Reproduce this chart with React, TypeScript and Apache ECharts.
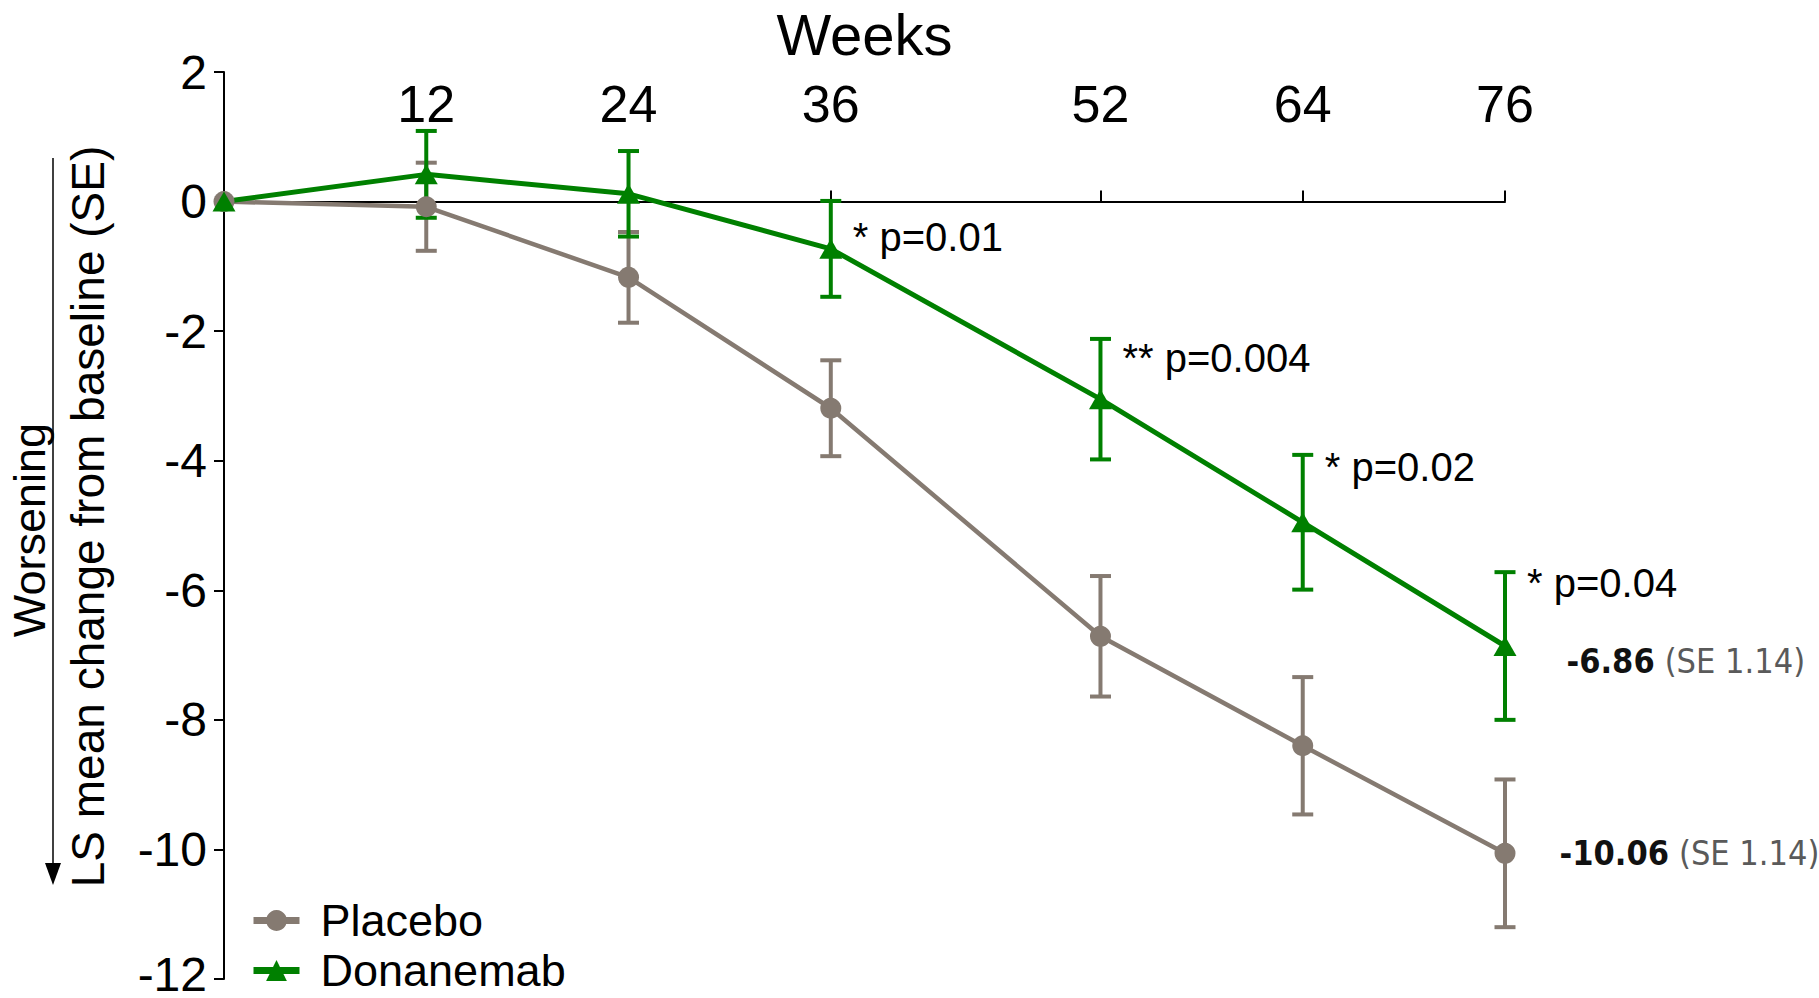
import React, { useEffect, useRef } from 'react';
import * as echarts from 'echarts';

const weeks = [0, 12, 24, 36, 52, 64, 76];
const weekTicks = [12, 24, 36, 52, 64, 76];
const placeboMean = [0, -0.08, -1.17, -3.19, -6.71, -8.4, -10.06];
const placeboSE = [0, 0.68, 0.7, 0.74, 0.93, 1.06, 1.14];
const donaMean = [0, 0.42, 0.12, -0.73, -3.05, -4.95, -6.86];
const donaSE = [0, 0.67, 0.66, 0.74, 0.93, 1.04, 1.14];
const pLabels = ['', '', '', '* p=0.01', '** p=0.004', '* p=0.02', '* p=0.04'];
const pLabelY = [0, 0, 0, -0.54, -2.42, -4.09, -5.88];
const yMin = -12;
const yMax = 2;
const yStep = 2;

const GRAY = '#857a71';
const GREEN = '#008000';
const FONT = "'Liberation Sans', Arial, Helvetica, sans-serif";
const DIN = "'DejaVu Sans Condensed', 'DejaVu Sans', sans-serif";

function errorBarSeries(name: string, mean: number[], se: number[], color: string, width: number) {
  return {
    type: 'custom',
    name,
    data: weeks.map((w, i) => [w, mean[i], se[i]]),
    encode: { x: 0, y: 1 },
    silent: true,
    renderItem: (params: any, api: any) => {
      const x = api.value(0);
      const m = api.value(1);
      const s = api.value(2);
      if (!s) return { type: 'group', children: [] };
      const top = api.coord([x, m + s]);
      const bot = api.coord([x, m - s]);
      const hw = 10.5;
      const st = { stroke: color, lineWidth: width };
      return {
        type: 'group',
        children: [
          { type: 'line', shape: { x1: top[0], y1: top[1], x2: bot[0], y2: bot[1] }, style: st },
          { type: 'line', shape: { x1: top[0] - hw, y1: top[1], x2: top[0] + hw, y2: top[1] }, style: st },
          { type: 'line', shape: { x1: bot[0] - hw, y1: bot[1], x2: bot[0] + hw, y2: bot[1] }, style: st },
        ],
      };
    },
  };
}

function lineData(mean: number[], se: number[], offsetY: number, dist: number) {
  return weeks.map((w, i) => {
    if (i !== weeks.length - 1) return [w, mean[i]];
    return {
      value: [w, mean[i]],
      label: {
        show: true,
        position: 'right',
        distance: dist,
        offset: [0, offsetY],
        formatter: `{b|${mean[i].toFixed(2)}}{g|(SE ${se[i].toFixed(2)})}`,
        rich: {
          b: { fontFamily: DIN, fontWeight: 'bold', fontSize: 34, color: '#111' },
          g: { fontFamily: DIN, fontSize: 34, color: '#5a5a5a', padding: [0, 0, 0, 10] },
        },
      },
    };
  });
}

export default function App() {
  const ref = useRef<HTMLDivElement>(null);
  useEffect(() => {
    document.body.style.margin = '0';
    if (!ref.current) return;
    const chart = echarts.init(ref.current, undefined, { renderer: 'svg' });
    chart.setOption({
      animation: false,
      backgroundColor: '#fff',
      grid: { left: 224, right: 314, top: 72, bottom: 19, containLabel: false, outerBoundsMode: 'none' },
      legend: {
        orient: 'vertical',
        left: 245,
        top: 893,
        itemWidth: 46,
        itemHeight: 26,
        itemGap: 5,
        data: ['Placebo', 'Donanemab'],
        textStyle: { fontSize: 45, fontFamily: FONT, color: '#000', padding: [0, 0, 0, 16] },
        lineStyle: { width: 7 },
      },
      xAxis: {
        type: 'value',
        min: 0,
        max: 76,
        position: 'top',
        name: 'Weeks',
        nameLocation: 'middle',
        nameGap: 13,
        nameTextStyle: { fontSize: 58, lineHeight: 50, fontFamily: FONT, color: '#000' },
        axisLine: { show: true, onZero: true, lineStyle: { color: '#000', width: 2 } },
        axisTick: { show: true, length: 11, customValues: weekTicks, lineStyle: { color: '#000', width: 2 } },
        axisLabel: { customValues: weekTicks, fontSize: 52, fontFamily: FONT, color: '#000', margin: -58 },
        splitLine: { show: false },
      },
      yAxis: {
        type: 'value',
        min: yMin,
        max: yMax,
        interval: yStep,
        position: 'left',
        name: 'LS mean change from baseline (SE)',
        nameLocation: 'middle',
        nameRotate: 90,
        nameGap: 113,
        nameTextStyle: { fontSize: 46, fontFamily: FONT, color: '#000', padding: [0, 0, 0, 18] },
        axisLine: { show: true, onZero: false, lineStyle: { color: '#000', width: 2 } },
        axisTick: { show: true, length: 10, lineStyle: { color: '#000', width: 2 } },
        axisLabel: {
          fontSize: 48,
          lineHeight: 34,
          fontFamily: FONT,
          color: '#000',
          margin: 17,
          formatter: (v: number) => (v === yMin ? `{m|${v}}` : `${v}`),
          rich: { m: { fontSize: 48, lineHeight: 34, fontFamily: FONT, color: '#000', padding: [0, 0, 10, 0] } },
        },
        splitLine: { show: false },
      },
      graphic: [
        {
          type: 'text',
          x: 29,
          y: 530,
          rotation: Math.PI / 2,
          style: { text: 'Worsening', font: `45px ${FONT}`, fill: '#000', align: 'center', verticalAlign: 'middle' },
        },
        { type: 'line', shape: { x1: 53, y1: 158, x2: 53, y2: 866 }, style: { stroke: '#000', lineWidth: 1.5 } },
        { type: 'polygon', shape: { points: [[45, 863], [61, 863], [53, 885]] }, style: { fill: '#000' } },
      ],
      series: [
        errorBarSeries('Placebo SE', placeboMean, placeboSE, GRAY, 4),
        {
          type: 'line',
          name: 'Placebo',
          data: lineData(placeboMean, placeboSE, 0, 44),
          symbol: 'circle',
          symbolSize: 21,
          itemStyle: { color: GRAY },
          lineStyle: { color: GRAY, width: 4.5 },
        },
        errorBarSeries('Donanemab SE', donaMean, donaSE, GREEN, 4),
        {
          type: 'line',
          name: 'Donanemab',
          data: lineData(donaMean, donaSE, 15, 50),
          symbol: 'triangle',
          symbolSize: [23, 20],
          itemStyle: { color: GREEN },
          lineStyle: { color: GREEN, width: 5 },
        },
        {
          type: 'custom',
          name: 'p values',
          silent: true,
          data: weeks.map((w, i) => [w, pLabelY[i]]),
          encode: { x: 0, y: 1 },
          renderItem: (params: any, api: any) => {
            const t = pLabels[params.dataIndex];
            if (!t) return { type: 'group', children: [] };
            const p = api.coord([api.value(0), api.value(1)]);
            return {
              type: 'text',
              x: p[0] + 22,
              y: p[1],
              style: { text: t, font: `40px ${FONT}`, fill: '#000', align: 'left', verticalAlign: 'middle' },
            };
          },
        },
      ],
    });
    return () => chart.dispose();
  }, []);
  return <div ref={ref} style={{ width: 1819, height: 998 }} />;
}
